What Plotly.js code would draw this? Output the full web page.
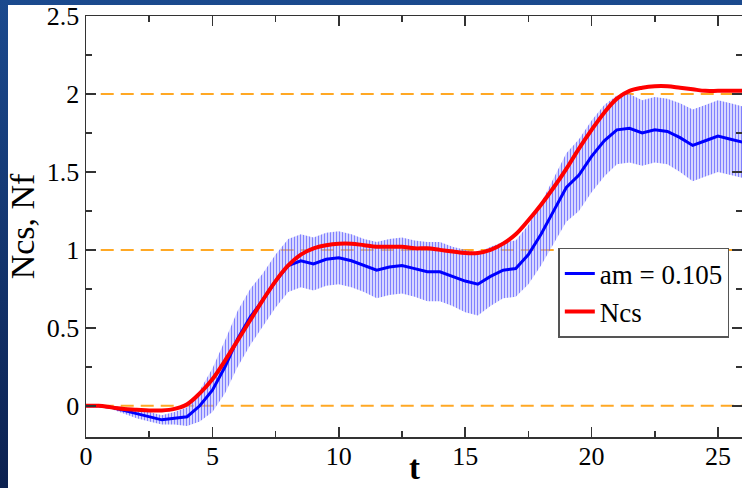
<!DOCTYPE html>
<html>
<head>
<meta charset="utf-8">
<script src="https://cdn.plot.ly/plotly-3.0.1.min.js"></script>
<style>
html,body{margin:0;padding:0;width:742px;height:488px;overflow:hidden;
background:linear-gradient(to bottom,#1b4a8e,#0c2150);}
#panel{position:absolute;left:8px;top:5px;width:734px;height:483px;background:#fff;}
#chart{position:absolute;left:0;top:0;width:742px;height:488px;}
</style>
</head>
<body>
<div id="panel"></div>
<div id="chart"></div>
<script>
const t = [0,0.5,1,1.5,2,2.5,3,3.5,4,4.5,5,5.5,6,6.5,7,7.5,8,8.5,9,9.5,10,10.5,11,11.5,12,12.5,13,13.5,14,14.5,15,15.5,16,16.5,17,17.5,18,18.5,19,19.5,20,20.5,21,21.5,22,22.5,23,23.5,24,24.5,25,25.5,26];
const nf = [0.00,0.00,-0.01,-0.03,-0.05,-0.07,-0.09,-0.08,-0.07,0.00,0.10,0.25,0.43,0.57,0.68,0.80,0.90,0.93,0.91,0.94,0.95,0.93,0.90,0.87,0.89,0.90,0.88,0.86,0.86,0.83,0.80,0.78,0.83,0.87,0.88,0.97,1.10,1.25,1.40,1.48,1.60,1.70,1.77,1.78,1.75,1.77,1.76,1.72,1.67,1.70,1.73,1.71,1.69];
const nfErr = [0.01,0.01,0.01,0.02,0.03,0.03,0.03,0.04,0.06,0.10,0.14,0.17,0.18,0.18,0.17,0.17,0.17,0.17,0.17,0.17,0.17,0.17,0.17,0.18,0.18,0.18,0.18,0.19,0.19,0.19,0.20,0.20,0.19,0.18,0.18,0.19,0.20,0.21,0.22,0.23,0.23,0.23,0.22,0.22,0.21,0.21,0.21,0.22,0.23,0.23,0.23,0.23,0.23];
const ncs = [0,0,-0.01,-0.02,-0.025,-0.03,-0.03,-0.02,0.01,0.08,0.17,0.29,0.42,0.55,0.68,0.80,0.90,0.97,1.01,1.03,1.04,1.04,1.03,1.02,1.02,1.02,1.01,1.01,1.00,0.99,0.98,0.98,1.00,1.04,1.10,1.19,1.29,1.40,1.52,1.65,1.77,1.88,1.97,2.02,2.04,2.05,2.05,2.04,2.03,2.02,2.02,2.02,2.02];
const refLevels = [0,1,2];
const xTickVals = [0,5,10,15,20,25];
const yTickVals = [0,0.5,1,1.5,2,2.5];
const yTickText = ['0','0.5','1','1.5','2','2.5'];
const xTitle = 't';
const yTitle = 'Ncs, Nf';

const upper = nf.map((v,i)=>v+nfErr[i]);
const lower = nf.map((v,i)=>v-nfErr[i]);

const traces = [];
refLevels.forEach(l=>{
  traces.push({x:[-1,30],y:[l,l],mode:'lines',showlegend:false,hoverinfo:'skip',
    line:{color:'#FFA824',width:2,dash:'13px,7px'}});
});
traces.push({x:t,y:lower,mode:'lines',line:{width:0},showlegend:false,hoverinfo:'skip'});
traces.push({x:t,y:upper,mode:'lines',line:{width:0},fill:'tonexty',
  fillcolor:'rgba(150,150,255,0.55)',
  fillpattern:{shape:'|',fgcolor:'rgba(70,70,255,0.6)',bgcolor:'rgba(175,175,255,0.5)',size:3,solidity:0.35},
  showlegend:false,hoverinfo:'skip'});
traces.push({x:t,y:nf,mode:'lines',name:'am = 0.105',line:{color:'#0000ff',width:3}});
traces.push({x:t,y:ncs,mode:'lines',name:'Ncs',line:{color:'#ff0000',width:4,shape:'spline'}});

const font = {family:'"Liberation Serif", "DejaVu Serif", serif',color:'#000'};
const layout = {
  width:742,height:488,
  margin:{l:86,r:0,t:16,b:51},
  paper_bgcolor:'rgba(0,0,0,0)',plot_bgcolor:'#fff',
  font:Object.assign({size:24},font),
  showlegend:true,
  legend:{x:0.72,y:0.449,xanchor:'left',yanchor:'top',bgcolor:'#fff',traceorder:'normal',
    bordercolor:'#555',borderwidth:1.5,font:Object.assign({size:27},font),
    tracegroupgap:0,itemwidth:30},
  annotations:[{text:'<b>'+xTitle+'</b>',xref:'paper',yref:'paper',x:0.5,y:0,xanchor:'center',yanchor:'bottom',
    yshift:-50,showarrow:false,borderpad:0,font:Object.assign({size:33},font)}],
  xaxis:{range:[0,25.95],tickvals:xTickVals,ticks:'inside',ticklen:10,tickwidth:1.5,
    tickcolor:'#333',showline:true,linecolor:'#333',linewidth:1.5,mirror:'ticks',
    showgrid:false,zeroline:false,ticklabelstandoff:-5,
    minor:{dtick:2.5,tick0:0,ticks:'inside',ticklen:6,tickcolor:'#333',tickwidth:1.5,showgrid:false},
    tickfont:Object.assign({size:26},font)},
  yaxis:{range:[-0.2,2.5],tickvals:yTickVals,ticktext:yTickText,ticks:'inside',ticklen:10,tickwidth:1.5,
    tickcolor:'#333',showline:true,linecolor:'#333',linewidth:1.5,mirror:'ticks',
    showgrid:false,zeroline:false,ticklabeloverflow:'allow',
    minor:{dtick:0.25,tick0:0,ticks:'inside',ticklen:6,tickcolor:'#333',tickwidth:1.5,showgrid:false},
    tickfont:Object.assign({size:26},font),
    title:{text:yTitle,font:Object.assign({size:34},font),standoff:2}}
};
Plotly.newPlot('chart',traces,layout,{displayModeBar:false,staticPlot:true});
</script>
</body>
</html>
